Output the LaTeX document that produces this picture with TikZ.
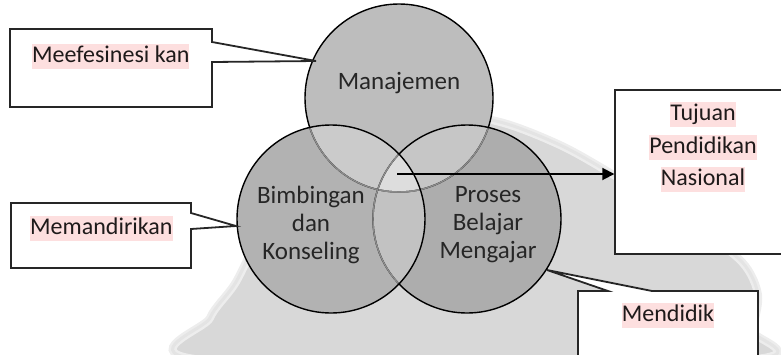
\documentclass[tikz,border=0pt]{standalone}
\usepackage{fontspec}
\setmainfont{Carlito}
\usetikzlibrary{arrows.meta}
\definecolor{hl}{HTML}{FDDFDF}
\definecolor{wm}{HTML}{D8D8D8}
\definecolor{cM}{HTML}{BDBDBD}
\definecolor{cB}{HTML}{B2B2B2}
\definecolor{cP}{HTML}{ADADAD}
\definecolor{cMB}{HTML}{CBCBCB}
\definecolor{cMP}{HTML}{C6C6C6}
\definecolor{cBP}{HTML}{C2C2C2}
\definecolor{cMBP}{HTML}{DDDDDD}
\definecolor{txt}{HTML}{1E1A1A}
\tikzset{
  callout/.style={draw=black!85, line width=1.8pt, fill=white, line join=miter},
  hltext/.style={fill=hl, inner xsep=0pt, inner ysep=0.5pt, text height=18pt, text depth=6pt, text=txt, font=\fontsize{24}{29}\selectfont},
  circtext/.style={align=center, text=black!85, font=\fontsize{25}{28}\selectfont, inner sep=0pt},
  ring/.style={line width=1.4pt},
}
\begin{document}
\begin{tikzpicture}[x=1pt,y=-1pt]
\useasboundingbox (0,0) rectangle (781,354);
\clip (0,0) rectangle (781,354);
% watermark (faint background emblem)
\def\wmpath{plot[smooth cycle] coordinates {(205,360) (210,318) (236,282) (262,228) (292,168) (350,128) (430,112) (500,122) (560,145) (612,174) (690,222) (742,262) (758,295) (752,330) (742,360)}}
\draw[wm!45, line width=8pt, fill=wm] \wmpath;
\draw[wm!70, line width=3pt] \wmpath;
% circle centres
\coordinate (cm) at (399,98);
\coordinate (cb) at (331,219);
\coordinate (cp) at (467,219);
% region fills
\fill[cM] (cm) circle[radius=94pt];
\fill[cB] (cb) circle[radius=94pt];
\fill[cP] (cp) circle[radius=94pt];
\begin{scope}\clip (cm) circle[radius=94pt]; \fill[cMB] (cb) circle[radius=94pt]; \fill[cMP] (cp) circle[radius=94pt];\end{scope}
\begin{scope}\clip (cb) circle[radius=94pt]; \fill[cBP] (cp) circle[radius=94pt];
  \clip (cm) circle[radius=94pt]; \fill[cMBP] (cp) circle[radius=94pt];\end{scope}
% outlines
\draw[ring, black] (cm) circle[radius=94pt];
\begin{scope}\clip (cb) circle[radius=94pt]; \draw[ring, black!45] (cm) circle[radius=94pt];\end{scope}
\begin{scope}\clip (cp) circle[radius=94pt]; \draw[ring, black!45] (cm) circle[radius=94pt];\end{scope}
\draw[ring, black] (cp) circle[radius=94pt];
\begin{scope}\clip (cb) circle[radius=94pt]; \draw[ring, black!45] (cp) circle[radius=94pt];\end{scope}
\draw[ring, black] (cb) circle[radius=94pt];
% circle texts
\node[circtext] (tm) at (399,83) {Manajemen};
\node[circtext] (tb) at (311,225) {Bimbingan\\dan\\Konseling};
\node[circtext] (tp) at (488,225) {Proses\\Belajar\\Mengajar};
% arrow
\coordinate (as) at (397,174);
\node[inner sep=0pt] (tbox) at (615,174) {};
\draw[line width=1.8pt, -{Triangle[length=12pt,width=12pt]}] (as) -- (tbox.west);
% callout 1
\draw[callout] (10,29) -- (212,29) -- (212,42) -- (316,61) -- (212,62) -- (212,107) -- (10,107) -- cycle;
\node[hltext, anchor=west] (t1) at (32,56) {Meefesinesi kan};
% callout 2
\draw[callout] (11,203) -- (191,203) -- (191,213) -- (236,226) -- (191,229) -- (191,268) -- (11,268) -- cycle;
\node[hltext, anchor=west] (t2) at (30,228) {Memandirikan};
% callout 3
\draw[callout] (578,291) -- (608,291) -- (547,270) -- (652,291) -- (758,291) -- (758,370) -- (578,370) -- cycle;
\node[hltext] (t3) at (668,315) {Mendidik};
% box 4
\draw[callout] (615,90) rectangle (795,254);
\node[hltext] (t4a) at (703,114) {Tujuan};
\node[hltext] (t4b) at (703,147) {Pendidikan};
\node[hltext] (t4c) at (703,179) {Nasional};
\end{tikzpicture}
\end{document}
